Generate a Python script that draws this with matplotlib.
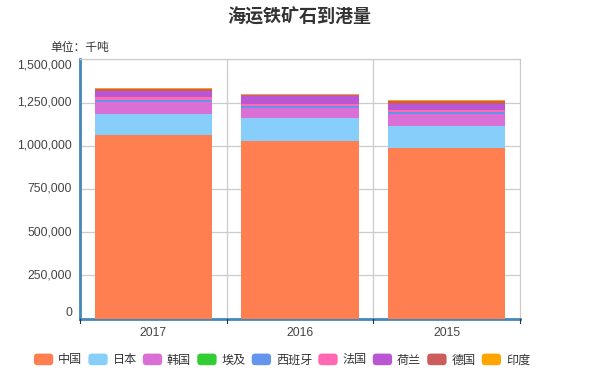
import matplotlib.pyplot as plt
import matplotlib.transforms as mtransforms
import numpy as np
from matplotlib.patches import FancyBboxPatch, Patch
from matplotlib.legend_handler import HandlerPatch

plt.rcParams['font.family'] = ['Noto Sans CJK SC', 'DejaVu Sans']

years = ['2017', '2016', '2015']
countries = ['中国', '日本', '韩国', '埃及', '西班牙', '法国', '荷兰', '德国', '印度']
colors = ['#ff7f50', '#87cefa', '#da70d6', '#32cd32', '#6495ed',
          '#ff69b4', '#ba55d3', '#cd5c5c', '#ffa500']

# 千吨
china = [1065000, 1028000, 987000]
japan = [121000, 134000, 129000]
korea = [68000, 57000, 66000]
egypt = [1000, 1000, 1000]
spain = [13000, 12000, 11000]
france = [17500, 13000, 16000]
netherlands = [31000, 47000, 35000]
germany = [10000, 2000, 12000]
india = [11000, 9000, 11000]

yticks = [0, 250000, 500000, 750000, 1000000, 1250000, 1500000]

series = [china, japan, korea, egypt, spain, france, netherlands, germany, india]

fig = plt.figure(figsize=(5.99, 3.78), dpi=100)
ax = fig.add_axes([80 / 599, 1 - 318.5 / 378, 440 / 599, 259 / 378])

x = np.arange(len(years))
bottom = np.zeros(len(years))
for name, vals, c in zip(countries, series, colors):
    ax.bar(x, vals, width=0.8, bottom=bottom, color=c, label=name, zorder=3)
    bottom += np.array(vals)

ax.set_xlim(-0.5, 2.5)
ax.set_ylim(0, 1500000)
ax.set_yticks(yticks)
ax.set_yticklabels([])
ax.set_xticks(x)
ax.set_xticklabels(years, family=['Liberation Sans', 'DejaVu Sans'])
ax.tick_params(axis='x', length=0, labelsize=8.7, labelcolor='#444444', pad=6)
ax.tick_params(axis='y', length=0)

# y labels drawn by hand so the end ones sit inside the axis range
lab_tr = mtransforms.offset_copy(ax.get_yaxis_transform(), fig=fig, x=-8, y=0, units='dots')
for i, yv in enumerate(yticks):
    va = 'bottom' if i == 0 else ('top' if i == len(yticks) - 1 else 'center')
    ax.text(0, yv, f'{yv:,}', transform=lab_tr, ha='right', va=va,
            fontsize=8.7, color='#444444', family=['Liberation Sans', 'DejaVu Sans'])

# grid lines
for yv in yticks[1:]:
    ax.axhline(yv, color='#cccccc', lw=0.9, zorder=1)
for xv in [0.5, 1.5]:
    ax.axvline(xv, color='#cccccc', lw=0.9, zorder=1)

for s in ['top', 'right']:
    ax.spines[s].set_color('#cccccc')
    ax.spines[s].set_linewidth(0.9)
for s in ['left', 'bottom']:
    ax.spines[s].set_color('#4488bb')
    ax.spines[s].set_linewidth(2)

# category boundary ticks on x axis
for xv in [-0.5, 0.5, 1.5, 2.5]:
    ax.plot([xv, xv], [0, -0.018], transform=ax.get_xaxis_transform(),
            color='#333333', lw=0.8, clip_on=False, zorder=5)

fig.text(0.5, 1 - 17 / 378, '海运铁矿石到港量', ha='center', va='center',
         fontsize=13, fontweight='bold', color='#333333')
fig.text(50 / 599, 1 - 48 / 378, '单位：千吨', ha='left', va='center',
         fontsize=8.5, color='#333333')


class RoundHandler(HandlerPatch):
    def create_artists(self, legend, orig_handle, xdescent, ydescent,
                       width, height, fontsize, trans):
        p = FancyBboxPatch((-xdescent, -ydescent), width, height,
                           boxstyle='round,pad=0,rounding_size=2.5',
                           facecolor=orig_handle.get_facecolor(),
                           edgecolor='none', transform=trans)
        return [p]


handles = [Patch(facecolor=c) for c in colors]
fig.legend(handles, countries, loc='center', bbox_to_anchor=(282 / 599, 1 - 360 / 378),
           ncol=9, frameon=False, fontsize=8.7, handlelength=1.6, handleheight=1.1,
           handletextpad=0.4, columnspacing=0.5, borderpad=0,
           handler_map={Patch: RoundHandler()},
           labelcolor='#333333')

fig.savefig('out.png', dpi=100)
